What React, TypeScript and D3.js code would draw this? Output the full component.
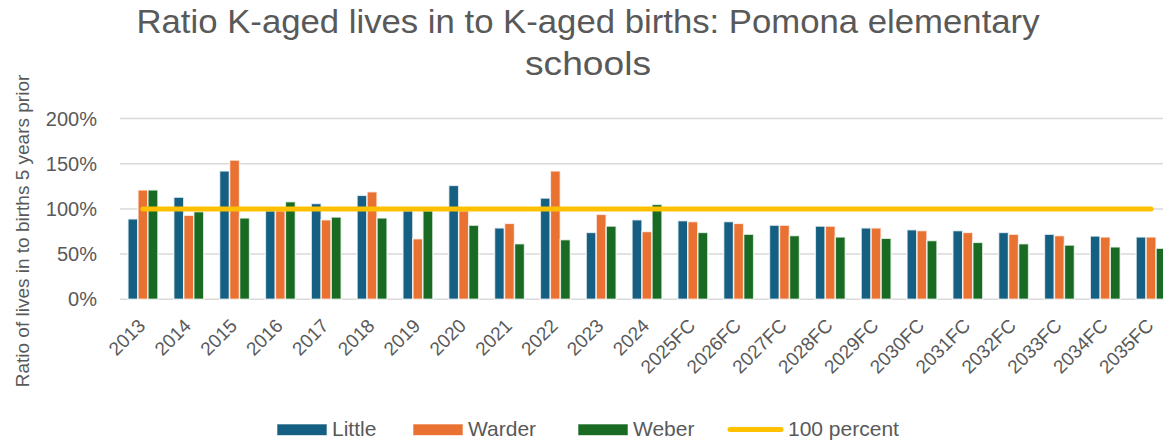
import * as d3 from 'd3'

const WIDTH = 1163
const HEIGHT = 444

// categories along the x axis
const YEARS = [
  '2013', '2014', '2015', '2016', '2017', '2018', '2019', '2020', '2021', '2022', '2023', '2024',
  '2025FC', '2026FC', '2027FC', '2028FC', '2029FC', '2030FC', '2031FC', '2032FC', '2033FC', '2034FC', '2035FC',
]

// ratios in percent
const LITTLE = [89, 113, 142, 98, 106, 115, 98, 126, 79, 112, 74, 88, 87, 86, 82, 81, 79, 77, 76, 74, 72, 70, 69]
const WARDER = [121, 93, 154, 98, 88, 119, 67, 98, 84, 142, 94, 75, 86, 84, 82, 81, 79, 76, 74, 72, 70.5, 69, 69]
const WEBER = [121, 97, 90, 108, 91, 90, 98, 82, 61.5, 66, 81, 105, 74, 72, 70.5, 69, 67.5, 65, 63, 61.5, 60, 58, 56.5]
const HUNDRED = [100, 100, 100, 100, 100, 100, 100, 100, 100, 100, 100, 100, 100, 100, 100, 100, 100, 100, 100, 100, 100, 100, 100]

const SERIES = ['Little', 'Warder', 'Weber']
const COLORS = ['#156082', '#E97132', '#196B24']
const LINE_COLOR = '#FFC000'
const Y_TICKS = [0, 50, 100, 150, 200]

const TEXT = '#595959'
const FONT = '"Liberation Sans", Arial, sans-serif'

// plot area (runs past the right edge, as in the source)
const PLOT = { left: 120, right: 1174, top: 118.5, bottom: 299.3 }

export default function App() {
  const x0 = d3.scaleBand<string>().domain(YEARS).range([PLOT.left, PLOT.right]).padding(0)
  const x1 = d3.scaleBand<string>().domain(SERIES).range([0, x0.bandwidth()])
    .paddingInner(0).paddingOuter(0.79)
  const y = d3.scaleLinear().domain([0, 200]).range([PLOT.bottom, PLOT.top])

  const values = [LITTLE, WARDER, WEBER]

  const line = d3.line<number>()
    .x((_, i) => (x0(YEARS[i]) ?? 0) + x0.bandwidth() / 2)
    .y((d) => y(d))

  const legend = [
    { label: 'Little', x: 277, color: COLORS[0] },
    { label: 'Warder', x: 413, color: COLORS[1] },
    { label: 'Weber', x: 578, color: COLORS[2] },
  ]

  return (
    <svg
      width={WIDTH}
      height={HEIGHT}
      style={{ position: 'absolute', left: 0, top: 0, display: 'block', background: '#fff' }}
      fontFamily={FONT}
    >
      {/* Title */}
      <text x={588} y={33} textAnchor="middle" fontSize={33} fill={TEXT}
        fontFamily='"Liberation Sans Narrow", "Liberation Sans", sans-serif'
        textLength={903} lengthAdjust="spacingAndGlyphs">
        Ratio K-aged lives in to K-aged births: Pomona elementary
      </text>
      <text x={588} y={75} textAnchor="middle" fontSize={33} fill={TEXT}
        fontFamily='"Liberation Sans Narrow", "Liberation Sans", sans-serif'
        textLength={126} lengthAdjust="spacingAndGlyphs">
        schools
      </text>

      {/* Y axis title */}
      <text transform="translate(24,231) rotate(-90)" textAnchor="middle" dominantBaseline="middle"
        fontSize={19} fill={TEXT}>
        Ratio of lives in to births 5 years prior
      </text>

      {/* Gridlines + tick labels */}
      {Y_TICKS.map((t) => (
        <g key={t}>
          <line x1={PLOT.left} x2={PLOT.right} y1={y(t)} y2={y(t)} stroke="#d9d9d9" strokeWidth={1.5} />
          <text x={97} y={y(t)} textAnchor="end" dominantBaseline="central" fontSize={20} fill={TEXT}>
            {t}%
          </text>
        </g>
      ))}

      {/* Bars */}
      {YEARS.map((yr, i) => (
        <g key={yr} transform={`translate(${x0(yr)},0)`}>
          {SERIES.map((s, j) => (
            <rect
              key={s}
              x={x1(s)}
              y={y(values[j][i])}
              width={x1.bandwidth()}
              height={y(0) - y(values[j][i])}
              fill={COLORS[j]}
              stroke="#ffffff"
              strokeOpacity={0.75}
              strokeWidth={1.5}
            />
          ))}
        </g>
      ))}

      {/* 100 percent line */}
      <path d={line(HUNDRED) ?? ''} fill="none" stroke={LINE_COLOR} strokeWidth={5} strokeLinecap="round" />

      {/* X tick labels */}
      {YEARS.map((yr) => {
        const cx = (x0(yr) ?? 0) + x0.bandwidth() / 2
        return (
          <text key={yr} transform={`translate(${cx - 1},${PLOT.bottom + 23}) rotate(-45)`}
            textAnchor="end" dominantBaseline="central" fontSize={19} fill={TEXT}>
            {yr}
          </text>
        )
      })}

      {/* Legend */}
      {legend.map((d) => (
        <g key={d.label}>
          <rect x={d.x} y={424} width={50} height={11.5} fill={d.color} stroke="#fff" strokeOpacity={0.6} strokeWidth={1} />
          <text x={d.x + 55} y={435.5} fontSize={21} fill={TEXT}>{d.label}</text>
        </g>
      ))}
      <line x1={730} x2={781} y1={429.5} y2={429.5} stroke={LINE_COLOR} strokeWidth={5} strokeLinecap="round" />
      <text x={788} y={435.5} fontSize={21} fill={TEXT}>100 percent</text>
    </svg>
  )
}
